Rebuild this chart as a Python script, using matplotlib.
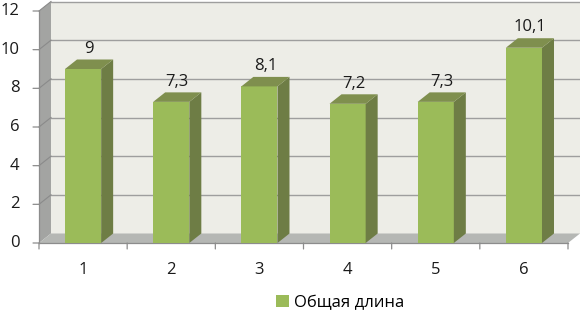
import matplotlib
matplotlib.use("Agg")
import matplotlib.pyplot as plt
from matplotlib.patches import Polygon
import numpy as np

plt.rcParams['font.family'] = ['Open Sans', 'DejaVu Sans']

categories = ["1", "2", "3", "4", "5", "6"]
values = [9, 7.3, 8.1, 7.2, 7.3, 10.1]
value_labels = ["9", "7,3", "8,1", "7,2", "7,3", "10,1"]
series_name = "Общая длина"
y_ticks = [0, 2, 4, 6, 8, 10, 12]

W, H = 580, 313
fig = plt.figure(figsize=(W / 100, H / 100), dpi=100)
x0, x1 = 39, 568
yb, yt = 243, 11
ax = fig.add_axes([x0 / W, 1 - yb / H, (x1 - x0) / W, (yb - yt) / H])
ax.set_xlim(0.5, 6.5)
ax.set_ylim(0, 12)
ax.axis('off')

# depth offset in data units
dx = 12 / ((x1 - x0) / 6)
dy = 9.5 / ((yb - yt) / 12)

front_col = '#9BBB59'
side_col = '#6E7D45'
top_col = '#7F8F4E'
fs = 12

# back wall
ax.add_patch(Polygon([(0.5 + dx, dy), (6.5 + dx, dy), (6.5 + dx, 12 + dy), (0.5 + dx, 12 + dy)],
                     closed=True, facecolor='#EDEDE7', edgecolor='none', clip_on=False, zorder=0))
# left wall
ax.add_patch(Polygon([(0.5, 0), (0.5 + dx, dy), (0.5 + dx, 12 + dy), (0.5, 12)],
                     closed=True, facecolor='#A3A4A2', edgecolor='none', clip_on=False, zorder=1))
# floor
ax.add_patch(Polygon([(0.5, 0), (6.5, 0), (6.5 + dx, dy), (0.5 + dx, dy)],
                     closed=True, facecolor='#B5B7B4', edgecolor='none', clip_on=False, zorder=1))

# gridlines on back and side wall
for v in y_ticks[1:]:
    ax.plot([0.5 + dx, 6.5 + dx], [v + dy, v + dy], color='#9E9E9E', lw=1.0, clip_on=False, zorder=0.5)
    ax.plot([0.5, 0.5 + dx], [v, v + dy], color='#8A8A8A', lw=0.8, clip_on=False, zorder=1.5)

# axes lines
ax.plot([0.5, 0.5], [0, 12], color='#8C8C8C', lw=0.9, clip_on=False, zorder=2)
ax.plot([0.5, 6.5], [0, 0], color='#8C8C8C', lw=0.9, clip_on=False, zorder=2)

for v in y_ticks:
    ax.annotate('', xy=(0.5, v), xytext=(-4.3, 0), textcoords='offset points',
                arrowprops=dict(arrowstyle='-', color='#8C8C8C', lw=0.9, shrinkA=0, shrinkB=0),
                annotation_clip=False)
    ax.annotate(str(v), xy=(0.5, v), xytext=(-14, 0), textcoords='offset points',
                ha='right', va='center', fontsize=fs, color='#1a1a1a', annotation_clip=False)
for b in np.arange(0.5, 6.51, 1):
    ax.annotate('', xy=(b, 0), xytext=(0, -4.3), textcoords='offset points',
                arrowprops=dict(arrowstyle='-', color='#8C8C8C', lw=0.9, shrinkA=0, shrinkB=0),
                annotation_clip=False)

xs = np.arange(1, len(categories) + 1)
w = 0.41
bars = ax.bar(xs, values, width=w, color=front_col, edgecolor='none', zorder=3, label=series_name)
for x, v, lab, c in zip(xs, values, value_labels, categories):
    r = x + w / 2
    l = x - w / 2
    ax.add_patch(Polygon([(r, 0), (r + dx, dy), (r + dx, v + dy), (r, v)], closed=True,
                         facecolor=side_col, edgecolor='none', zorder=3, clip_on=False))
    ax.add_patch(Polygon([(l, v), (r, v), (r + dx, v + dy), (l + dx, v + dy)], closed=True,
                         facecolor=top_col, edgecolor='none', zorder=3, clip_on=False))
    ax.annotate(lab, xy=(x + dx / 2, v + dy), xytext=(0, 2), textcoords='offset points',
                ha='center', va='bottom', fontsize=fs, color='#1a1a1a', annotation_clip=False)
    ax.annotate(c, xy=(x, 0), xytext=(0, -14), textcoords='offset points',
                ha='center', va='top', fontsize=fs, color='#1a1a1a', annotation_clip=False)

leg = fig.legend(handles=[bars], labels=[series_name], loc='center',
                 bbox_to_anchor=(340 / W, 1 - 303 / H), frameon=False, fontsize=fs,
                 handlelength=0.75, handleheight=0.75, handletextpad=0.3)

fig.savefig('out.png', dpi=100)
